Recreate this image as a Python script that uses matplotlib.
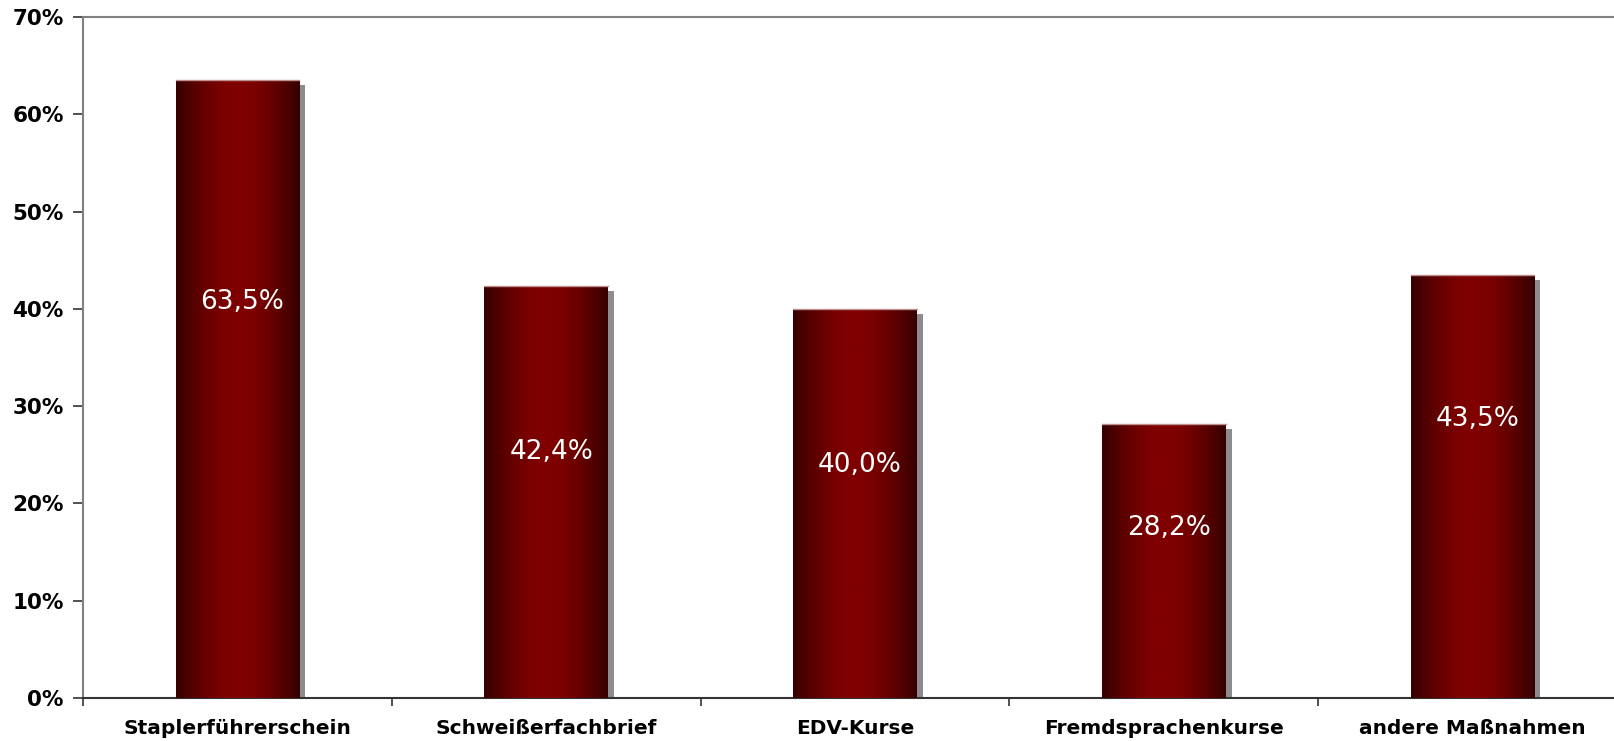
import matplotlib
matplotlib.use("Agg")
import matplotlib.pyplot as plt
import numpy as np
from matplotlib.colors import LinearSegmentedColormap
from matplotlib.patches import Rectangle

categories = ["Staplerführerschein", "Schweißerfachbrief", "EDV-Kurse",
              "Fremdsprachenkurse", "andere Maßnahmen"]
values = [63.5, 42.4, 40.0, 28.2, 43.5]
# height (in %) where each value label sits inside its bar
label_y = [40.7, 25.3, 24.0, 17.5, 28.7]
yticks = [0, 10, 20, 30, 40, 50, 60, 70]

fig = plt.figure(figsize=(16.15, 7.41), dpi=100)
ax = fig.add_axes([0.0514, 0.058, 0.956, 0.919])

x = np.arange(len(categories))
width = 0.4
bars = ax.bar(x, values, width=width, color="none", zorder=3)

cmap = LinearSegmentedColormap.from_list("bar", ["#360000", "#800000"])
t = np.linspace(0, 1, 256)
grad = np.sin(np.pi * t)
grad = grad[np.newaxis, :]

sx = 6 / (1544 / 5)        # shadow offset in data units (x)
sy = 5 / 681 * 70          # shadow offset in data units (y)

for b in bars:
    x0, w, h = b.get_x(), b.get_width(), b.get_height()
    shadow = Rectangle((x0 + sx, 0), w, h - sy, facecolor="#8c8c8c",
                       edgecolor="none", zorder=2)
    ax.add_patch(shadow)
    im = ax.imshow(grad, cmap=cmap, aspect="auto", extent=(x0, x0 + w, 0, h),
                   interpolation="bicubic", zorder=3)
    im.set_clip_path(b)
    ax.plot([x0, x0 + w], [h, h], color="#c09090", lw=1, zorder=4)

for xi, v, ly in zip(x, values, label_y):
    ax.text(xi + 0.016, ly, f"{v:.1f}".replace(".", ",") + "%", color="white",
            fontsize=19, ha="center", va="center", zorder=5)

ax.set_xlim(-0.5, 4.5)
ax.set_ylim(0, 70)
ax.set_yticks(yticks)
ax.set_yticklabels([f"{v}%" for v in yticks], fontsize=15.5, fontweight="bold")
ax.set_xticks(x)
ax.set_xticklabels(categories, fontsize=14.5, fontweight="bold")
ax.set_xticks(np.arange(-0.5, 5, 1), minor=True)
ax.tick_params(axis="x", which="major", length=0, pad=15)
ax.tick_params(axis="x", which="minor", length=6, width=1.2, color="#333333")
ax.tick_params(axis="y", length=7, width=1.2, color="#333333", pad=7)

for s in ax.spines.values():
    s.set_color("#808080")
    s.set_linewidth(1.5)
ax.spines["bottom"].set_color("#333333")

fig.savefig("out.png", dpi=100)
